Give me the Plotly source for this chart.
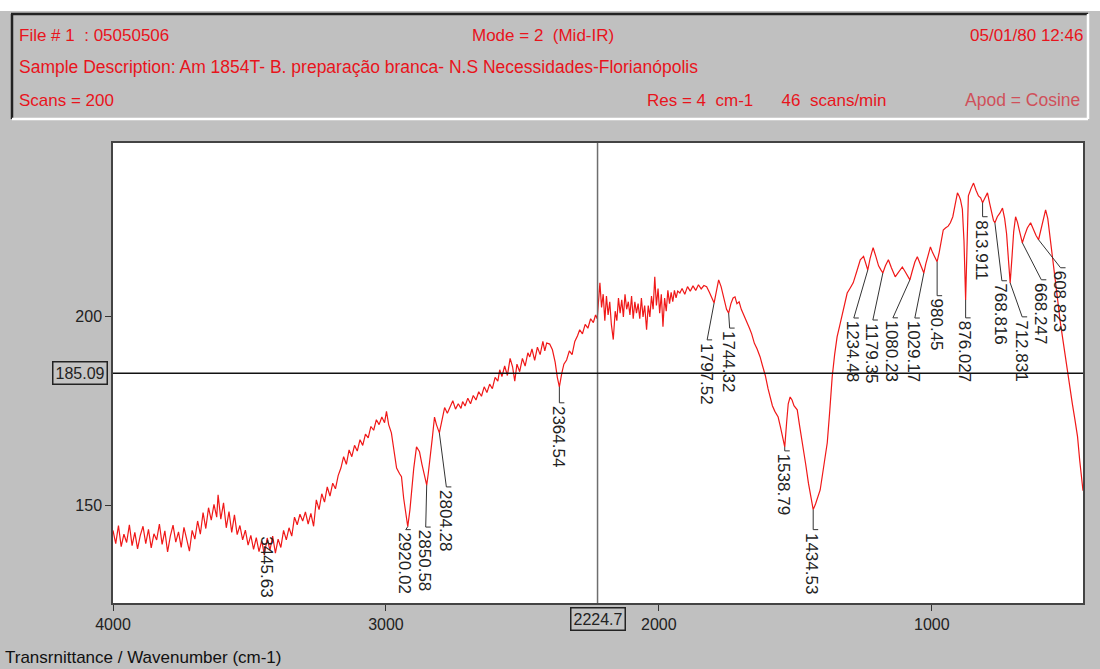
import numpy as np
import plotly.graph_objects as go

# ---------------- data ----------------
wavenumber = [
    4000, 3990, 3980, 3970, 3960, 3950, 3940, 3930, 3920, 3910, 3900, 3890, 3880, 3870, 3860, 3850,
    3840, 3830, 3820, 3810, 3800, 3790, 3780, 3770, 3760, 3750, 3740, 3730, 3720, 3710, 3700, 3690,
    3680, 3670, 3660, 3650, 3640, 3630, 3620, 3615, 3605, 3595, 3585, 3575, 3565, 3555, 3545, 3535,
    3525, 3515, 3505, 3495, 3485, 3475, 3465, 3455, 3445.63, 3435, 3425, 3415, 3405, 3395, 3385, 3375,
    3365, 3355, 3345, 3335, 3325, 3315, 3305, 3295, 3285, 3275, 3265, 3255, 3245, 3235, 3225, 3215,
    3205, 3195, 3185, 3175, 3165, 3155, 3145, 3135, 3125, 3115, 3105, 3095, 3085, 3075, 3065, 3055,
    3045, 3035, 3025, 3015, 3005, 2998, 2990, 2980, 2970, 2961, 2950, 2943, 2935, 2924, 2920.02, 2912,
    2906, 2898, 2888, 2877, 2868, 2860, 2850.58, 2845, 2840, 2830, 2822, 2815, 2804.28, 2795, 2785, 2775,
    2765, 2755, 2745, 2735, 2725, 2719, 2710, 2700, 2690, 2680, 2670, 2660, 2650, 2640, 2630, 2620,
    2610, 2600, 2590, 2583, 2575, 2565, 2555, 2545, 2536, 2528, 2520, 2510, 2500, 2490, 2480, 2473,
    2465, 2455, 2445, 2435, 2425, 2418, 2411, 2400, 2390, 2380, 2372, 2364.54, 2356, 2348, 2338, 2328,
    2318, 2308, 2298, 2290, 2280, 2270, 2260, 2250, 2240, 2232, 2226, 2216, 2210, 2204, 2198, 2192,
    2186, 2180, 2174, 2167, 2160, 2154, 2148, 2142, 2136, 2130, 2124, 2118, 2112, 2106, 2100, 2094,
    2088, 2082, 2076, 2070, 2064, 2058, 2052, 2045, 2039, 2033, 2027, 2021, 2015, 2009, 2003, 1997,
    1991, 1985, 1979, 1973, 1967, 1961, 1955, 1949, 1943, 1937, 1931, 1923, 1915, 1905, 1895, 1885,
    1875, 1865, 1855, 1845, 1835, 1825, 1815, 1807, 1797.52, 1790, 1781, 1772, 1762, 1752, 1744.32, 1736,
    1728, 1721, 1714, 1706, 1698, 1692, 1684, 1676, 1668, 1660, 1650, 1640, 1629, 1620, 1610, 1600,
    1592, 1584, 1575, 1563, 1555, 1547, 1538.79, 1532, 1526, 1519, 1512, 1505, 1493, 1485, 1478, 1471,
    1462, 1452, 1443, 1434.53, 1426, 1418, 1409, 1400, 1392, 1383, 1374, 1365, 1356, 1347, 1338, 1328,
    1319, 1310, 1300, 1288, 1275, 1262, 1250, 1241, 1234.48, 1226, 1215, 1205, 1195, 1187, 1179.35, 1170,
    1159, 1148, 1140, 1134, 1125, 1116, 1108, 1098, 1090, 1080.23, 1072, 1062, 1053, 1045, 1036, 1029.17,
    1022, 1013, 1005, 997, 988, 980.45, 973, 966, 958, 950, 940, 932, 923, 915, 906, 900,
    895, 888, 882, 876.027, 871, 866, 856, 847, 838, 829, 821, 813.911, 805, 796, 788, 780,
    774, 768.816, 760, 750, 741, 733, 726, 719, 712.831, 706, 700, 693, 686, 678, 672, 668.247,
    660, 650, 638, 628, 618, 608.823, 600, 592, 583, 575, 568, 561, 554, 546, 538, 530,
    521, 512, 503, 494, 485, 476, 466, 458, 452, 446,
]
transmittance = [
    143.5, 140.0, 144.8, 139.2, 142.5, 140.3, 145.0, 139.5, 143.0, 138.6, 142.2, 144.6, 140.0, 143.8, 138.9, 142.6,
    141.0, 145.2, 139.8, 143.4, 137.8, 142.0, 144.9, 140.4, 143.1, 139.0, 144.3, 140.8, 138.0, 143.5, 141.2, 146.0,
    142.5, 148.2, 144.0, 149.5, 146.2, 150.4, 147.0, 152.9, 146.5, 150.8, 144.2, 148.5, 143.0, 147.6, 142.4, 144.8,
    141.0, 143.6, 139.6, 142.2, 138.5, 141.6, 137.9, 140.8, 137.0, 141.5, 138.2, 142.0, 137.5, 141.2, 139.0, 143.5,
    141.0, 144.2, 142.0, 147.0, 145.0, 147.8, 146.0, 148.4, 145.2, 148.0, 144.6, 151.6, 149.0, 153.2, 151.0, 155.0,
    152.6, 156.0, 154.5, 158.0, 160.0, 163.0, 161.0, 164.8, 163.0, 166.0, 164.5, 167.5, 166.0, 169.0, 168.0, 171.0,
    170.0, 172.8, 171.5, 173.5, 172.0, 175.0, 171.5, 169.3, 164.0, 160.0, 158.5, 157.7, 152.0, 146.0, 144.5, 149.0,
    154.2, 160.0, 165.6, 164.3, 161.0, 158.0, 155.5, 158.5, 162.2, 168.0, 173.5, 171.5, 169.3, 173.0, 176.0, 174.5,
    176.0, 177.8, 175.6, 177.0, 175.8, 177.6, 176.4, 178.5, 177.0, 179.2, 178.0, 180.2, 179.0, 181.5, 180.0, 182.2,
    181.0, 184.0, 183.0, 186.0, 184.2, 187.0, 184.5, 189.0, 186.8, 183.0, 187.5, 185.5, 189.0, 187.0, 190.5, 189.4,
    191.5, 188.5, 192.0, 190.0, 193.5, 191.0, 193.1, 192.8, 191.3, 188.0, 184.0, 181.5, 185.0, 187.5, 188.6, 191.0,
    190.0, 193.5, 195.0, 196.6, 195.5, 198.0, 197.0, 199.5, 198.5, 200.5, 199.5, 209.0, 202.5, 206.0, 199.0, 205.5,
    200.5, 204.0, 198.0, 194.0, 201.5, 199.0, 205.0, 201.0, 204.5, 200.0, 206.0, 202.0, 204.0, 200.5, 205.5, 199.5,
    204.0, 201.0, 203.5, 199.5, 205.0, 200.0, 203.0, 196.6, 203.0, 200.0, 205.5, 202.0, 210.6, 203.0, 207.5, 201.0,
    206.0, 197.4, 205.0, 201.5, 207.0, 203.5, 206.5, 204.0, 207.0, 205.0, 206.8, 206.3, 207.5, 206.0, 208.0, 206.8,
    208.2, 207.0, 208.5, 207.4, 208.3, 208.0, 206.5, 205.0, 203.7, 206.5, 209.8, 208.0, 205.0, 202.0, 201.0, 203.5,
    205.0, 205.3, 203.5, 204.0, 202.0, 201.0, 200.0, 198.5, 197.0, 195.5, 193.0, 191.5, 189.4, 187.0, 184.5, 181.0,
    178.8, 176.5, 175.0, 173.5, 171.0, 168.0, 165.6, 172.0, 177.0, 178.8, 178.0, 176.5, 175.4, 171.5, 168.5, 165.6,
    161.0, 156.0, 152.0, 149.0, 150.5, 152.5, 154.2, 158.5, 162.5, 166.7, 175.0, 184.1, 190.0, 194.7, 197.5, 200.5,
    203.5, 206.3, 207.5, 209.0, 212.0, 215.1, 216.0, 214.0, 212.4, 215.5, 218.3, 216.0, 213.5, 212.5, 211.6, 213.5,
    215.1, 213.0, 211.5, 210.6, 211.5, 212.5, 213.2, 212.0, 211.0, 209.8, 212.0, 214.5, 215.9, 214.5, 212.5, 211.6,
    214.0, 216.5, 218.5, 217.0, 215.5, 214.6, 217.0, 220.0, 223.0, 223.5, 224.0, 224.9, 226.5, 229.5, 232.8, 232.0,
    231.0, 228.5, 220.0, 204.5, 221.0, 232.0, 234.0, 235.4, 233.5, 232.0, 231.5, 230.2, 231.5, 232.8, 230.0, 227.0,
    225.5, 224.9, 226.5, 227.5, 228.8, 226.0, 222.0, 215.0, 209.0, 216.0, 222.5, 226.5, 225.0, 222.5, 220.5, 219.6,
    221.5, 223.5, 224.9, 223.0, 221.5, 220.4, 223.0, 226.0, 228.3, 226.0, 222.0, 218.0, 214.3, 209.0, 204.0, 199.0,
    194.5, 190.0, 185.2, 180.5, 177.0, 173.0, 168.3, 162.0, 158.0, 154.0,
]

peak_labels = ["3445.63", "2920.02", "2850.58", "2804.28", "2364.54", "1797.52", "1744.32",
               "1538.79", "1434.53", "1234.48", "1179.35", "1080.23", "1029.17", "980.45",
               "876.027", "813.911", "768.816", "712.831", "668.247", "608.823"]

x_ticks = [4000, 3000, 2000, 1000]
y_ticks = [200, 150]
cursor_x = 2224.7
cursor_y = 185.09

# ---------------- layout constants ----------------
W, H = 1100, 669
ML, MR, MT, MB = 113, 17, 143, 66
PW, PH = W - ML - MR, H - MT - MB
X0, X1 = 4000, 446
Y0, Y1 = 124.3, 246.0
ppx = PW / (X0 - X1)
ppy = PH / (Y1 - Y0)

# leader end offsets in pixels relative to the marked point (dx right, dy down)
label_offsets = [(3, -22), (-2, 3), (-1, 42), (7, 54), (0, 16), (-7, 37), (1, 15),
                 (0, 4), (0, 20), (-14, 48), (-10, 47), (-17, 38), (-9, 45), (0, 34),
                 (0, 18), (0, 14), (7, 58), (12, 34), (19, 37), (22, 28)]

FONT = "Liberation Sans, Arial, sans-serif"
RED = "#e8141c"


def xp(px):
    return (px - ML) / PW


def yp(py):
    return (H - MB - py) / PH


fig = go.Figure()
fig.add_trace(go.Scatter(x=wavenumber, y=transmittance, mode="lines",
                         line=dict(color="#f01818", width=1.2), hoverinfo="skip",
                         showlegend=False))

shapes = []
annotations = []

# header panel
shapes.append(dict(type="rect", xref="paper", yref="paper", x0=xp(0), x1=xp(W), y0=yp(11), y1=yp(0),
                   fillcolor="white", line=dict(width=0), layer="below"))
shapes.append(dict(type="line", xref="paper", yref="paper", x0=xp(11), x1=xp(1088), y0=yp(14), y1=yp(14),
                   line=dict(color="#222", width=2.5)))
shapes.append(dict(type="line", xref="paper", yref="paper", x0=xp(12), x1=xp(12), y0=yp(14), y1=yp(119),
                   line=dict(color="#222", width=2.5)))
shapes.append(dict(type="line", xref="paper", yref="paper", x0=xp(12), x1=xp(1088), y0=yp(119), y1=yp(119),
                   line=dict(color="white", width=2.5)))
shapes.append(dict(type="line", xref="paper", yref="paper", x0=xp(1088), x1=xp(1088), y0=yp(14), y1=yp(119),
                   line=dict(color="white", width=2.5)))

# cursor lines
shapes.append(dict(type="line", xref="x", yref="paper", x0=cursor_x, x1=cursor_x, y0=0, y1=1,
                   line=dict(color="#6e6e6e", width=1.5)))
shapes.append(dict(type="line", xref="paper", yref="y", x0=0, x1=1, y0=cursor_y, y1=cursor_y,
                   line=dict(color="#111", width=1.5)))


def htext(txt, px, py, anchor="left", color=RED, size=17):
    annotations.append(dict(text=txt, xref="paper", yref="paper", x=xp(px), y=yp(py),
                            xanchor=anchor, yanchor="middle", showarrow=False,
                            font=dict(family=FONT, size=size, color=color)))


htext("File # 1  : 05050506", 17, 36)
htext("Mode = 2  (Mid-IR)", 543, 36, anchor="center")
htext("05/01/80 12:46", 1085, 36, anchor="right")
htext("Sample Description: Am 1854T- B. preparação branca- N.S Necessidades-Florianópolis", 17, 67, size=17.5)
htext("Scans = 200", 17, 100)
htext("Res = 4  cm-1      46  scans/min", 645, 100)
htext("Apod = Cosine", 1082, 100, anchor="right", color="#d0505a", size=17.5)

# bottom axis caption
annotations.append(dict(text="Transrnittance / Wavenumber (cm-1)", xref="paper", yref="paper",
                        x=xp(3), y=yp(657), xanchor="left", yanchor="middle", showarrow=False,
                        font=dict(family=FONT, size=17, color="#111")))

# cursor value boxes
annotations.append(dict(text="185.09", xref="paper", yref="y", x=xp(108), y=cursor_y,
                        xanchor="right", yanchor="middle", showarrow=False,
                        font=dict(family=FONT, size=16, color="#222"),
                        bordercolor="#222", borderwidth=1.5, borderpad=2, bgcolor="#c4c4c4"))
annotations.append(dict(text="2224.7", xref="x", yref="paper", x=cursor_x, y=yp(607),
                        xanchor="center", yanchor="top", showarrow=False,
                        font=dict(family=FONT, size=16, color="#222"),
                        bordercolor="#222", borderwidth=1.5, borderpad=2, bgcolor="#c4c4c4"))

# peak labels
wn_arr = np.array(wavenumber, dtype=float)
tr_arr = np.array(transmittance, dtype=float)
order = np.argsort(wn_arr)
for lab, (dx, dy) in zip(peak_labels, label_offsets):
    wn = float(lab)
    val = float(np.interp(wn, wn_arr[order], tr_arr[order]))
    ex = wn - dx / ppx
    ey = val - dy / ppy
    if dy > 2:
        shapes.append(dict(type="line", xref="x", yref="y", x0=wn, y0=val, x1=ex, y1=ey,
                           line=dict(color="#333", width=1)))
        shapes.append(dict(type="line", xref="x", yref="y", x0=ex, y0=ey, x1=ex - 5 / ppx, y1=ey,
                           line=dict(color="#333", width=1)))
    annotations.append(dict(text=lab, xref="x", yref="y", x=ex, y=ey, xanchor="center", yanchor="top",
                            textangle=90, showarrow=False, yshift=-1, xshift=-1,
                            font=dict(family=FONT, size=17, color="#222")))

fig.update_layout(
    width=W, height=H,
    margin=dict(l=ML, r=MR, t=MT, b=MB, pad=0),
    paper_bgcolor="#c0c0c0",
    plot_bgcolor="white",
    showlegend=False,
    shapes=shapes,
    annotations=annotations,
    xaxis=dict(range=[X0, X1], tickmode="array", tickvals=x_ticks, ticktext=[str(t) for t in x_ticks],
               showgrid=False, zeroline=False, showline=True, mirror=True, linecolor="#444", linewidth=1.5,
               ticks="outside", ticklen=6, tickcolor="#333", tickwidth=1,
               tickfont=dict(family=FONT, size=16, color="#222")),
    yaxis=dict(range=[Y0, Y1], tickmode="array", tickvals=y_ticks, ticktext=[str(t) for t in y_ticks],
               showgrid=False, zeroline=False, showline=True, mirror=True, linecolor="#444", linewidth=1.5,
               ticks="outside", ticklen=6, tickcolor="#333", tickwidth=1,
               tickfont=dict(family=FONT, size=16, color="#222")),
)

fig.write_html("out.html", config={"displayModeBar": False},
               post_script="document.body.style.margin='0px';document.body.style.padding='0px';")
